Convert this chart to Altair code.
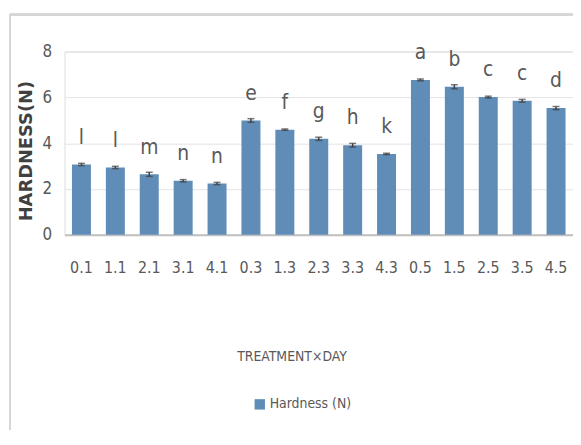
import altair as alt
import pandas as pd

groups = ["0.1", "1.1", "2.1", "3.1", "4.1", "0.3", "1.3", "2.3", "3.3", "4.3",
          "0.5", "1.5", "2.5", "3.5", "4.5"]
hardness = [3.07, 2.94, 2.64, 2.36, 2.24, 4.99, 4.59, 4.19, 3.91, 3.53,
            6.76, 6.46, 6.01, 5.85, 5.53]
errors = [0.05, 0.05, 0.09, 0.05, 0.05, 0.08, 0.03, 0.07, 0.08, 0.03,
          0.04, 0.09, 0.04, 0.06, 0.07]
letters = ["l", "l", "m", "n", "n", "e", "f", "g", "h", "k",
           "a", "b", "c", "c", "d"]
series_name = "Hardness (N)"

df = pd.DataFrame({
    "group": groups,
    "value": hardness,
    "lo": [v - e for v, e in zip(hardness, errors)],
    "hi": [v + e for v, e in zip(hardness, errors)],
    "letter": letters,
    "series": [series_name] * len(groups),
})

NARROW = "Liberation Sans Narrow, DejaVu Sans Condensed, sans-serif"
BAR = "#5f8db8"

x = alt.X("group:N", sort=groups,
          scale=alt.Scale(paddingInner=0.44, paddingOuter=0.22),
          axis=alt.Axis(title="TREATMENT×DAY", labelAngle=0, ticks=False,
                        domainColor="#bfbfbf", domainWidth=2,
                        labelFont=NARROW, labelFontSize=16, labelColor="#595959",
                        labelPadding=25, titleFont=NARROW, titleFontSize=14,
                        titleFontWeight="normal", titleColor="#595959",
                        titleX=229, titleY=130, titleBaseline="bottom"))

base = alt.Chart(df)

bars = base.mark_bar(color=BAR).encode(
    x=x,
    y=alt.Y("value:Q", scale=alt.Scale(domain=[0, 8]),
            axis=alt.Axis(title="HARDNESS(N)", values=[0, 2, 4, 6, 8],
                          domain=False, ticks=False, gridColor="#e3e3e3",
                          labelFont=NARROW, labelFontSize=17, labelColor="#595959",
                          labelPadding=13, titleFont="DejaVu Sans",
                          titleFontSize=18, titleFontWeight="bold",
                          titleColor="#404040", titlePadding=7,
                          titleY=100)),
    color=alt.Color("series:N",
                    scale=alt.Scale(domain=[series_name], range=[BAR]),
                    legend=alt.Legend(title=None, orient="none", legendX=190,
                                      legendY=349, symbolType="square",
                                      symbolSize=110, labelFont=NARROW,
                                      labelFontSize=14, labelColor="#595959",
                                      labelOffset=3)),
)

err_rule = base.mark_rule(color="#404040", strokeWidth=1.5).encode(
    x=alt.X("group:N", sort=groups), y="lo:Q", y2="hi:Q")
err_cap_lo = base.mark_tick(color="#404040", size=7, thickness=1.5,
                            orient="horizontal").encode(
    x=alt.X("group:N", sort=groups), y="lo:Q")
err_cap_hi = base.mark_tick(color="#404040", size=7, thickness=1.5,
                            orient="horizontal").encode(
    x=alt.X("group:N", sort=groups), y="hi:Q")

text = base.mark_text(font=NARROW, fontSize=21, color="#595959",
                      baseline="alphabetic", dy=-21).encode(
    x=alt.X("group:N", sort=groups), y="value:Q", text="letter:N")

frame_top = base.mark_rule(color="#d6d6d6", strokeWidth=2).encode(
    x=alt.value(-55), x2=alt.value(520), y=alt.value(-37))
frame_left = base.mark_rule(color="#d6d6d6", strokeWidth=1.5).encode(
    x=alt.value(-55), y=alt.value(-37), y2=alt.value(395))

chart = alt.layer(bars, err_rule, err_cap_lo, err_cap_hi, text,
                  frame_top, frame_left).properties(
    width=513, height=185,
    autosize=alt.AutoSizeParams(type="none"),
    padding={"left": 57, "top": 42, "right": 0, "bottom": 195},
).configure_view(stroke=None).configure(background="#ffffff")

chart.save("out.html", embed_options={"renderer": "svg", "actions": False})
